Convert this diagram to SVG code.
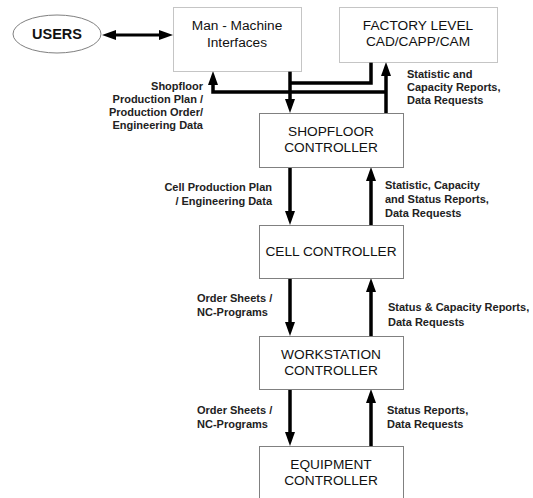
<svg xmlns="http://www.w3.org/2000/svg" width="533" height="498" viewBox="0 0 533 498">
  <style>
    .box { fill: #ffffff; stroke: #808080; stroke-width: 1; }
    .dotted { fill: #ffffff; stroke: #8a8a8a; stroke-width: 1; stroke-dasharray: 1 1; }
    .node-text { font-family: "Liberation Sans", Arial, sans-serif; font-size: 13.7px; fill: #111; text-anchor: middle; }
    .users-text { font-family: "Liberation Sans", Arial, sans-serif; font-size: 14.5px; font-weight: bold; fill: #111; text-anchor: middle; }
    .label { font-family: "Liberation Sans", Arial, sans-serif; font-size: 11px; font-weight: bold; fill: #222; }
    .end { text-anchor: end; }
    .flow { fill: none; stroke: #000; stroke-width: 3.5; }
    .link { fill: none; stroke: #000; stroke-width: 3; }
  </style>
  <defs>
    <marker id="head" viewBox="0 0 14 10" refX="4" refY="5" markerWidth="14" markerHeight="10" markerUnits="userSpaceOnUse" orient="auto-start-reverse">
      <path d="M0,0 L14,5 L0,10 z" fill="#000"/>
    </marker>
  </defs>

  <rect width="533" height="498" fill="#ffffff"/>

  <!-- connectors -->
  <g id="connectors">
    <path class="link" d="M112,35 H163" marker-start="url(#head)" marker-end="url(#head)"/>
    <path class="flow" d="M290,71 V103" marker-end="url(#head)"/>
    <path class="flow" d="M371,62 V83 H290"/>
    <path class="flow" d="M386,113 V72" marker-end="url(#head)"/>
    <path class="flow" d="M386,92 H213 V81" marker-end="url(#head)"/>
    <path class="flow" d="M290,167 V215" marker-end="url(#head)"/>
    <path class="flow" d="M371,225 V177" marker-end="url(#head)"/>
    <path class="flow" d="M290,278 V326" marker-end="url(#head)"/>
    <path class="flow" d="M371,336 V288" marker-end="url(#head)"/>
    <path class="flow" d="M290,389 V436" marker-end="url(#head)"/>
    <path class="flow" d="M371,446 V399" marker-end="url(#head)"/>
  </g>

  <!-- nodes -->
  <g id="users">
    <ellipse cx="57" cy="34" rx="44" ry="19" fill="#fff" stroke="#808080" stroke-width="1"/>
    <text class="users-text" x="57" y="39">USERS</text>
  </g>
  <g id="man-machine">
    <rect class="dotted" x="173.5" y="7.5" width="128" height="64"/>
    <text class="node-text" x="237" y="30">Man - Machine</text>
    <text class="node-text" x="237" y="47">Interfaces</text>
  </g>
  <g id="factory-level">
    <rect class="dotted" x="339.5" y="7.5" width="158" height="55"/>
    <text class="node-text" x="418" y="30">FACTORY LEVEL</text>
    <text class="node-text" x="418" y="46">CAD/CAPP/CAM</text>
  </g>
  <g id="shopfloor">
    <rect class="box" x="259.5" y="113.5" width="144" height="54"/>
    <text class="node-text" x="331" y="136">SHOPFLOOR</text>
    <text class="node-text" x="331" y="152">CONTROLLER</text>
  </g>
  <g id="cell">
    <rect class="box" x="259.5" y="225.5" width="144" height="53"/>
    <text class="node-text" x="331" y="256">CELL CONTROLLER</text>
  </g>
  <g id="workstation">
    <rect class="box" x="259.5" y="336.5" width="144" height="53"/>
    <text class="node-text" x="331" y="359">WORKSTATION</text>
    <text class="node-text" x="331" y="375">CONTROLLER</text>
  </g>
  <g id="equipment">
    <rect class="box" x="259.5" y="446.5" width="144" height="60"/>
    <text class="node-text" x="331" y="469">EQUIPMENT</text>
    <text class="node-text" x="331" y="485">CONTROLLER</text>
  </g>

  <!-- flow labels -->
  <g id="labels">
    <text class="label end" x="203" y="90">Shopfloor</text>
    <text class="label end" x="203" y="103">Production Plan /</text>
    <text class="label end" x="203" y="116">Production Order/</text>
    <text class="label end" x="203" y="129">Engineering Data</text>

    <text class="label" x="407" y="78">Statistic and</text>
    <text class="label" x="407" y="91">Capacity Reports,</text>
    <text class="label" x="407" y="104">Data Requests</text>

    <text class="label end" x="272" y="191">Cell Production Plan</text>
    <text class="label end" x="272" y="205">/ Engineering Data</text>

    <text class="label" x="385" y="189">Statistic, Capacity</text>
    <text class="label" x="385" y="203">and Status Reports,</text>
    <text class="label" x="385" y="217">Data Requests</text>

    <text class="label" x="197" y="302">Order Sheets /</text>
    <text class="label" x="197" y="316">NC-Programs</text>

    <text class="label" x="388" y="311">Status &amp; Capacity Reports,</text>
    <text class="label" x="388" y="326">Data Requests</text>

    <text class="label" x="197" y="414">Order Sheets /</text>
    <text class="label" x="197" y="428">NC-Programs</text>

    <text class="label" x="387" y="414">Status Reports,</text>
    <text class="label" x="387" y="428">Data Requests</text>
  </g>
</svg>
